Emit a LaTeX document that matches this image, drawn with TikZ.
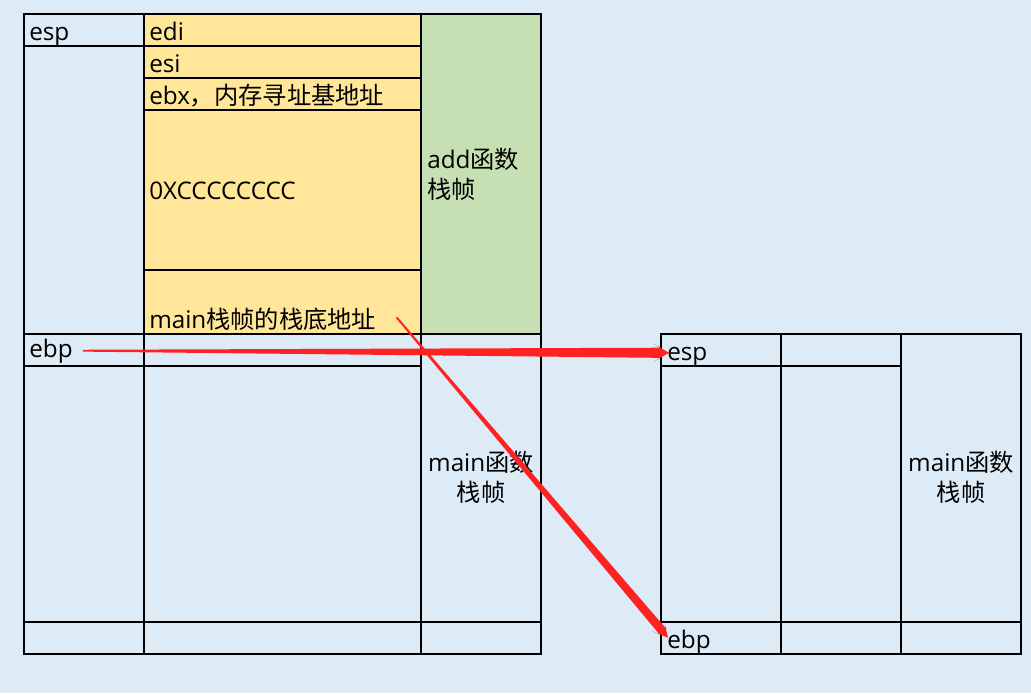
\documentclass[tikz,border=0pt]{standalone}
\usepackage{fontspec}
\setmainfont{Open Sans}
\newfontfamily\cjk{Noto Sans CJK SC}
\usetikzlibrary{calc}
\definecolor{sheetblue}{HTML}{DDEBF7}
\definecolor{regyellow}{HTML}{FFE699}
\definecolor{framegreen}{HTML}{C6E0B4}
\definecolor{penred}{HTML}{FF2222}

% tapered arrow: tail, tip, shaft half width at head, head half width
\newcommand{\penarrow}[4]{%
  \path (#2) coordinate (pa-tip) ($(#2)!6pt!(#1)$) coordinate (pa-nk)
        ($(#2)!11.5pt!(#1)$) coordinate (pa-bb);
  \fill[penred] ($(#1)!0.7pt!90:(pa-tip)$) -- ($(pa-nk)!#3!90:(pa-tip)$)
    -- ($(pa-bb)!#4!90:(pa-tip)$) -- (pa-tip) -- ($(pa-bb)!#4!-90:(pa-tip)$)
    -- ($(pa-nk)!#3!-90:(pa-tip)$) -- ($(#1)!0.7pt!-90:(pa-tip)$) -- cycle;}

\begin{document}
\begin{tikzpicture}[x=0.75pt,y=-0.75pt,
   font=\fontsize{18.2}{22.5}\selectfont,
   grid/.style={draw,line width=0.9pt},
   cell/.style={anchor=base west,inner sep=0pt},
   frame/.style={anchor=base,align=center,inner sep=0pt}]
\fill[sheetblue] (0,0) rectangle (1031,693);
\fill[regyellow] (144,14) rectangle (421,334);
\fill[framegreen] (421,14) rectangle (541,334);
% add/main stack (left)
\draw[grid] (24,14) rectangle (144,46) (24,46) rectangle (144,334)
  (24,334) rectangle (144,366) (24,366) rectangle (144,622) (24,622) rectangle (144,654);
\draw[grid] (144,14) rectangle (421,46) (144,46) rectangle (421,78)
  (144,78) rectangle (421,110) (144,110) rectangle (421,270) (144,270) rectangle (421,334)
  (144,334) rectangle (421,366) (144,366) rectangle (421,622) (144,622) rectangle (421,654);
\draw[grid] (421,14) rectangle (541,334) (421,334) rectangle (541,622) (421,622) rectangle (541,654);
% main stack after return (right)
\draw[grid] (661,334) rectangle (781,366) (781,334) rectangle (901,366)
  (661,366) rectangle (781,622) (781,366) rectangle (901,622) (901,334) rectangle (1021,622)
  (661,622) rectangle (781,654) (781,622) rectangle (901,654) (901,622) rectangle (1021,654);

\node[cell] (lesp) at (29,40.7) {esp};
\node[cell] (ledi) at (149,40.7) {edi};
\node[cell] (lesi) at (149,72.5) {esi};
\node[cell] (lebx) at (149,104.5) {ebx{\cjk，内存寻址基地址}};
\node[cell] (lcc) at (149,199.3) {0XCCCCCCCC};
\node[cell] (lbase) at (149,328.5) {main{\cjk 栈帧的栈底地址}};
\node[cell] (lebp) at (29,357) {ebp};
\node[cell,align=left] (laddframe) at (427,198.5) {add{\cjk 函数}\\{\cjk 栈帧}};
\node[frame] (lmainframe) at (481,501.7) {main{\cjk 函数}\\{\cjk 栈帧}};
\node[cell] (resp) at (667,360.5) {esp};
\node[cell] (rebp) at (667,648) {ebp};
\node[frame] (rmainframe) at (961,501.7) {main{\cjk 函数}\\{\cjk 栈帧}};

\coordinate (ebptail) at ($(lebp.east)+(10,0)$);
\coordinate (esptip) at ($(resp.west)+(2,-4)$);
\coordinate (basetail) at ($(lbase.east)+(20,-2)$);
\coordinate (ebptip) at ($(rebp.west)+(1,-4)$);
\penarrow{ebptail}{esptip}{3.8pt}{6.6pt}
\penarrow{basetail}{ebptip}{3.3pt}{6pt}
\end{tikzpicture}
\end{document}
